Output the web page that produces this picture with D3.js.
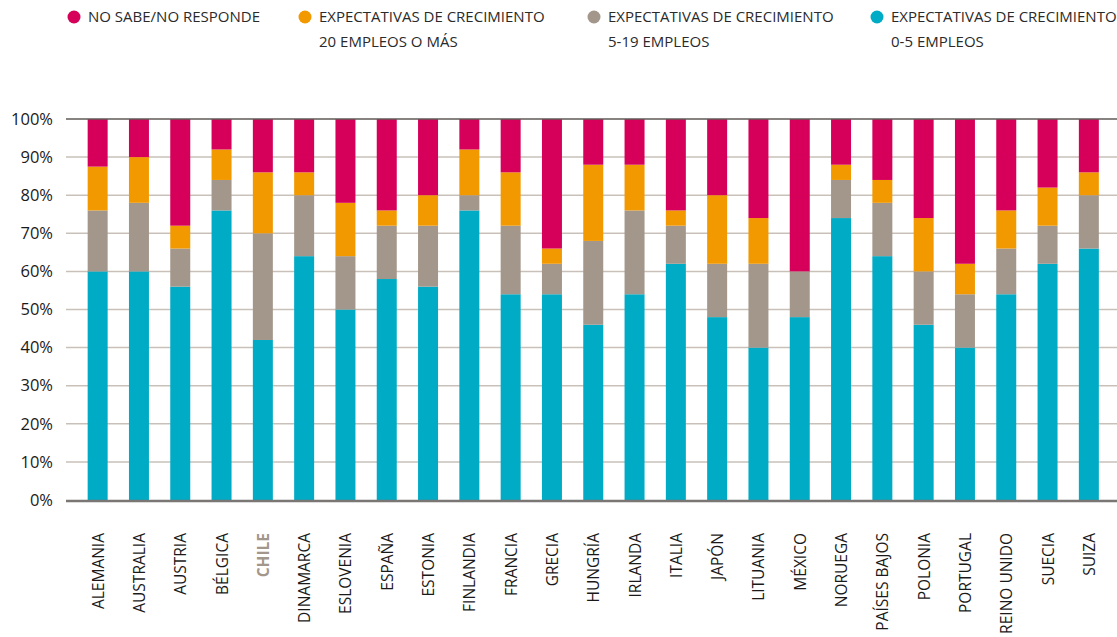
<!DOCTYPE html>
<html>
<head>
<meta charset="utf-8">
<script src="https://cdn.jsdelivr.net/npm/d3@7"></script>
<style>
  body { margin: 0; background: #fff; }
  svg { display: block; font-family: "Open Sans", sans-serif; }
</style>
</head>
<body>
<svg id="chart" width="1117" height="637"></svg>
<script>
// countries, left to right
var countries = ["ALEMANIA","AUSTRALIA","AUSTRIA","BÉLGICA","CHILE","DINAMARCA","ESLOVENIA","ESPAÑA",
  "ESTONIA","FINLANDIA","FRANCIA","GRECIA","HUNGRÍA","IRLANDA","ITALIA","JAPÓN","LITUANIA","MÉXICO",
  "NORUEGA","PAÍSES BAJOS","POLONIA","PORTUGAL","REINO UNIDO","SUECIA","SUIZA"];

// shares in %
var emp0_5   = [60,60,56,76,42,64,50,58,56,76,54,54,46,54,62,48,40,48,74,64,46,40,54,62,66];
var emp5_19  = [16,18,10, 8,28,16,14,14,16, 4,18, 8,22,22,10,14,22,12,10,14,14,14,12,10,14];
var emp20    = [11.5,12,6,8,16,6,14,4, 8,12,14, 4,20,12, 4,18,12, 0, 4, 6,14, 8,10,10, 6];
var noSabe   = [12.5,10,28,8,14,14,22,24,20,8,14,34,12,12,24,20,26,40,12,16,26,38,24,18,14];

var yTicks = [0,10,20,30,40,50,60,70,80,90,100];

var seriesKeys = ["a","b","c","d"];
var seriesColor = {a:"#00abc5", b:"#a3968a", c:"#f29900", d:"#d6005a"};

var legendItems = [
  {key:"d", lines:["NO SABE/NO RESPONDE"], x:74},
  {key:"c", lines:["EXPECTATIVAS DE CRECIMIENTO","20 EMPLEOS O MÁS"], x:305},
  {key:"b", lines:["EXPECTATIVAS DE CRECIMIENTO","5-19 EMPLEOS"], x:594},
  {key:"a", lines:["EXPECTATIVAS DE CRECIMIENTO","0-5 EMPLEOS"], x:877}
];

var rows = countries.map(function(c, i) {
  return {country:c, a:emp0_5[i], b:emp5_19[i], c:emp20[i], d:noSabe[i]};
});

var svg = d3.select("#chart");

var x = d3.scaleBand()
    .domain(countries)
    .range([77, 1109.5])
    .paddingInner(0.516)
    .paddingOuter(0.258);

var y = d3.scaleLinear()
    .domain([0, 100])
    .range([500, 119]);

// gridlines
svg.append("g").attr("class","grid")
  .selectAll("line")
  .data(yTicks.filter(function(d){ return d > 0 && d < 100; }))
  .enter().append("line")
    .attr("x1", 66).attr("x2", 1117)
    .attr("y1", function(d){ return y(d); })
    .attr("y2", function(d){ return y(d); })
    .attr("stroke", "#c9c1b9")
    .attr("stroke-width", 1.5);

// stacked bars
var stacked = d3.stack().keys(seriesKeys)(rows);

svg.append("g").attr("class","bars")
  .selectAll("g")
  .data(stacked)
  .enter().append("g")
    .attr("fill", function(s){ return seriesColor[s.key]; })
  .selectAll("rect")
  .data(function(s){ return s; })
  .enter().append("rect")
    .attr("x", function(d){ return x(d.data.country); })
    .attr("width", x.bandwidth())
    .attr("y", function(d){ return y(d[1]); })
    .attr("height", function(d){ return y(d[0]) - y(d[1]); });

// top and bottom lines
svg.append("line")
    .attr("x1", 66).attr("x2", 1117)
    .attr("y1", y(100)).attr("y2", y(100))
    .attr("stroke", "#5f5a56").attr("stroke-width", 1.5);
svg.append("line")
    .attr("x1", 66).attr("x2", 1117)
    .attr("y1", y(0) + 1).attr("y2", y(0) + 1)
    .attr("stroke", "#7a7674").attr("stroke-width", 2.5);

// y labels
svg.append("g").attr("class","ylabels")
  .selectAll("text")
  .data(yTicks)
  .enter().append("text")
    .attr("x", 53)
    .attr("y", function(d){ return y(d); })
    .attr("dy", "0.35em")
    .attr("text-anchor", "end")
    .attr("font-size", "16.5px")
    .attr("fill", "#1a1a1a")
    .text(function(d){ return d + "%"; });

// x labels, rotated
svg.append("g").attr("class","xlabels")
  .selectAll("text")
  .data(countries)
  .enter().append("text")
    .attr("transform", function(d){
      return "translate(" + (x(d) + x.bandwidth()/2 + 6) + ",533) rotate(-90)";
    })
    .attr("text-anchor", "end")
    .attr("font-size", "15.5px")
    .attr("fill", function(d){ return d == "CHILE" ? "#a3968a" : "#1a1a1a"; })
    .style("font-weight", function(d){ return d == "CHILE" ? "bold" : "normal"; })
    .text(function(d){ return d; });

// legend
var legend = svg.append("g").attr("class","legend")
  .selectAll("g")
  .data(legendItems)
  .enter().append("g")
    .attr("transform", function(d){ return "translate(" + d.x + ",0)"; });

legend.append("circle")
    .attr("cx", 0).attr("cy", 17).attr("r", 6.5)
    .attr("fill", function(d){ return seriesColor[d.key]; });

legend.selectAll("text")
  .data(function(d){ return d.lines; })
  .enter().append("text")
    .attr("x", 14)
    .attr("y", function(d, i){ return 22 + i * 25; })
    .attr("font-size", "15px")
    .attr("fill", "#2a2a2a")
    .text(function(d){ return d; });
</script>
</body>
</html>
